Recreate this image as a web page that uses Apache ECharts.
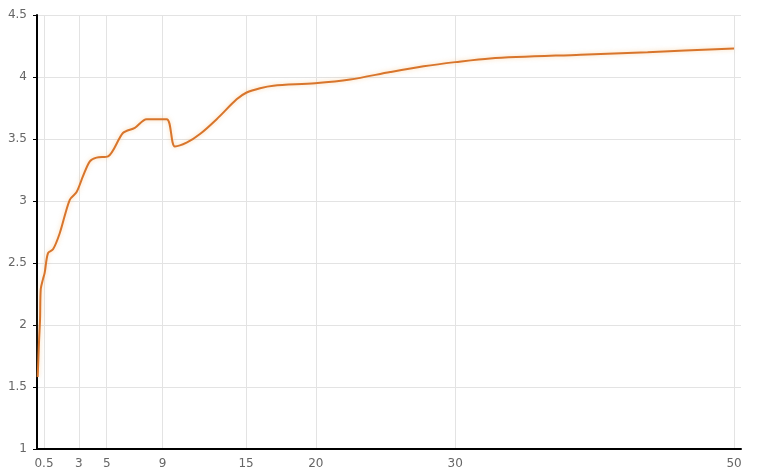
<!DOCTYPE html>
<html>
<head>
<meta charset="utf-8">
<script src="https://cdn.jsdelivr.net/npm/echarts@6/dist/echarts.min.js"></script>
<style>html,body{margin:0;padding:0;background:#fff;}#c{width:760px;height:470px;}</style>
</head>
<body>
<div id="c"></div>
<script>
var xValues = [0.05, 0.15, 0.22, 0.27, 0.43, 0.55, 0.79, 1.15, 1.63, 2.35, 2.83, 3.3, 3.79, 4.27, 5.1, 6.18, 7.02, 7.86, 9.3, 9.89, 10.73, 11.69, 12.89, 14.32, 15.04, 16, 16.96, 19.95, 22.46, 25.34, 27.73, 30, 32.5, 39, 43.8, 50];
var yValues = [1.58, 1.88, 2.05, 2.29, 2.37, 2.42, 2.58, 2.61, 2.74, 3.01, 3.07, 3.2, 3.32, 3.35, 3.36, 3.55, 3.59, 3.66, 3.66, 3.44, 3.47, 3.54, 3.66, 3.82, 3.875, 3.91, 3.93, 3.95, 3.98, 4.04, 4.086, 4.12, 4.15, 4.18, 4.2, 4.23];
var xTicks = [0.5, 3, 5, 9, 15, 20, 30, 50];
var yMin = 1, yMax = 4.5, yStep = 0.5;

var data = xValues.map(function (x, i) { return [x, yValues[i]]; });
var chart = echarts.init(document.getElementById('c'), null, {renderer: 'canvas'});
chart.setOption({
  backgroundColor: '#ffffff',
  animation: false,
  grid: {left: 37, right: 19, top: 15, bottom: 21, containLabel: false},
  xAxis: {
    type: 'value', min: 0, max: 50.5,
    axisLine: {show: true, lineStyle: {color: '#000', width: 2}},
    axisTick: {show: false, customValues: xTicks},
    axisLabel: {customValues: xTicks, color: '#666', fontSize: 12, fontFamily: 'DejaVu Sans', margin: 9},
    splitLine: {show: true, lineStyle: {color: '#e3e3e3', width: 1}}
  },
  yAxis: {
    type: 'value', min: yMin, max: yMax, interval: yStep,
    axisLine: {show: true, lineStyle: {color: '#000', width: 2}},
    axisTick: {show: true, length: 4, lineStyle: {color: '#000'}},
    axisLabel: {color: '#666', fontSize: 12, fontFamily: 'DejaVu Sans', margin: 10},
    splitLine: {show: true, lineStyle: {color: '#e3e3e3', width: 1}}
  },
  series: [{
    type: 'line', data: data, smooth: 0.3, symbol: 'none',
    lineStyle: {color: '#d8752c', width: 2, shadowColor: 'rgba(245,175,90,0.5)', shadowBlur: 4}
  }]
});
</script>
</body>
</html>
